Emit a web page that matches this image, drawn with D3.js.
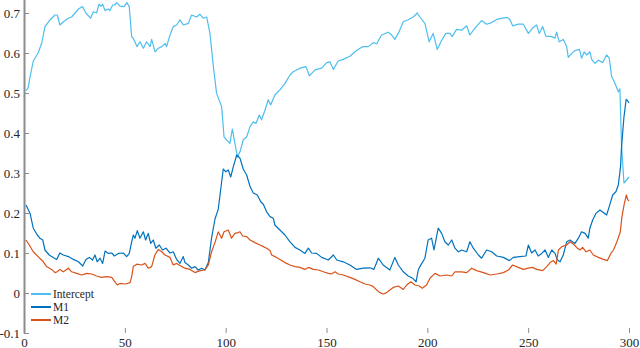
<!DOCTYPE html>
<html>
<head>
<meta charset="utf-8">
<script src="https://cdn.jsdelivr.net/npm/d3@7"></script>
<style>
  body { margin: 0; background: #fff; }
  svg { display: block; }
</style>
</head>
<body>
<svg id="chart" width="640" height="348"></svg>
<script>
// values, [x, y]
const intercept = [[1,0.506],[2,0.512],[3,0.54],[4.6,0.58],[7,0.60],[8.8,0.625],[10.4,0.666],[12.9,0.683],[15.4,0.695],[16.5,0.695],[17.8,0.67],[19.5,0.678],[22,0.687],[23.6,0.69],[27,0.71],[29,0.716],[30.7,0.70],[33,0.687],[34.4,0.703],[36,0.70],[37.2,0.722],[38.2,0.717],[39,0.722],[40.2,0.706],[41.8,0.71],[42.6,0.706],[44,0.72],[45,0.72],[46,0.726],[47.6,0.717],[49.6,0.716],[51,0.726],[52.2,0.716],[53.4,0.64],[54.2,0.637],[56,0.616],[57.5,0.628],[59.2,0.612],[60.8,0.628],[62.5,0.616],[63.3,0.634],[65,0.603],[66.6,0.612],[68.3,0.616],[70,0.624],[70.7,0.616],[72.4,0.645],[74,0.666],[75.7,0.67],[77.3,0.683],[79,0.67],[81.5,0.674],[83.1,0.695],[85.6,0.69],[87.2,0.697],[88.9,0.687],[90.6,0.69],[92.2,0.649],[93.9,0.566],[95.5,0.499],[98,0.466],[99.2,0.39],[100.5,0.383],[102.1,0.374],[103.3,0.41],[104.6,0.374],[105.8,0.34],[107.1,0.353],[108.7,0.383],[110.4,0.39],[112.1,0.416],[113.7,0.428],[115,0.424],[116.7,0.445],[117.8,0.433],[119.5,0.457],[121.1,0.483],[122.3,0.47],[124.4,0.495],[126.9,0.508],[129.4,0.524],[131.9,0.545],[133.5,0.553],[136.8,0.562],[139.8,0.566],[141.5,0.543],[144.3,0.558],[147.6,0.562],[150.1,0.576],[151.7,0.578],[153.4,0.559],[155.8,0.58],[158.3,0.584],[161.6,0.592],[164.1,0.603],[166.6,0.612],[168.2,0.616],[170.7,0.616],[173.2,0.626],[174.9,0.623],[177.3,0.645],[180.6,0.652],[182.3,0.645],[183.9,0.634],[185.6,0.649],[188.1,0.678],[190.5,0.683],[193,0.69],[195,0.70],[196.3,0.69],[198.8,0.674],[200.9,0.628],[202.9,0.649],[204.9,0.609],[207.1,0.632],[209.2,0.649],[211.2,0.649],[212.3,0.641],[214.5,0.659],[217,0.657],[219.5,0.668],[221.1,0.645],[223.6,0.662],[226.9,0.681],[229.4,0.672],[231.9,0.676],[234.4,0.684],[237.3,0.687],[239.6,0.689],[241,0.683],[242.3,0.668],[245.1,0.672],[247.6,0.672],[250.1,0.649],[252.5,0.664],[254.2,0.67],[255.5,0.649],[257.2,0.666],[258.8,0.642],[261.7,0.641],[263.3,0.637],[264.1,0.652],[265.4,0.628],[267.4,0.634],[269.1,0.616],[269.9,0.589],[271.6,0.599],[273.2,0.606],[275.4,0.609],[276.5,0.587],[277.8,0.603],[279,0.595],[280.6,0.603],[281.5,0.584],[283.1,0.574],[284.8,0.582],[287,0.576],[288.9,0.595],[290.2,0.587],[291.4,0.541],[292.7,0.528],[294.7,0.503],[295.5,0.51],[296.3,0.37],[297.5,0.275],[298.4,0.28],[300,0.29]];

const m1 = [[1,0.22],[3,0.199],[4.6,0.162],[6.6,0.145],[7.9,0.137],[9.3,0.1325],[10.4,0.1075],[12.5,0.095],[14.5,0.089],[16.2,0.084],[17.8,0.10],[19.5,0.095],[22,0.091],[24.5,0.084],[27,0.078],[29.1,0.0675],[30.7,0.084],[32.4,0.089],[34,0.0825],[35.2,0.095],[36.3,0.078],[37.7,0.087],[39,0.074],[40.2,0.105],[41.8,0.099],[43.5,0.10],[44.8,0.0925],[46.8,0.099],[49.2,0.10],[50.9,0.091],[52.2,0.099],[53.4,0.128],[54.2,0.145],[55,0.137],[56.2,0.156],[57.5,0.137],[59.2,0.153],[60.3,0.1325],[61.6,0.149],[62.8,0.124],[64.1,0.1325],[65.4,0.112],[67.1,0.12],[68.7,0.1075],[70.4,0.112],[72.4,0.10],[74,0.103],[75.7,0.084],[77.3,0.074],[79,0.091],[79.8,0.076],[81.5,0.07],[83.1,0.062],[84.8,0.066],[86.4,0.0575],[88.1,0.062],[89.7,0.0575],[91.4,0.076],[93,0.137],[94.7,0.185],[96.3,0.209],[97.5,0.2575],[98.8,0.31],[100.1,0.303],[101.3,0.3075],[102.5,0.29],[103.8,0.316],[105.5,0.345],[107.1,0.337],[108.7,0.31],[110.4,0.295],[112.1,0.266],[113.7,0.25],[115.7,0.245],[117.4,0.228],[118.7,0.222],[120.3,0.203],[122,0.191],[123.6,0.187],[124.4,0.17],[126.9,0.1575],[129.4,0.145],[131.9,0.128],[134.4,0.114],[136.8,0.1075],[139.3,0.099],[141,0.112],[142.6,0.10],[145.1,0.099],[147.6,0.089],[150.9,0.0825],[153.4,0.095],[155.1,0.0825],[158.3,0.078],[161.6,0.07],[164.9,0.059],[168.2,0.062],[171.5,0.063],[173.5,0.059],[175.7,0.087],[178.1,0.07],[181.4,0.0575],[183.9,0.089],[185.6,0.07],[188.1,0.053],[190.5,0.0425],[192.7,0.037],[194.4,0.028],[195.5,0.0575],[196.3,0.066],[198.8,0.087],[200.4,0.1325],[202.1,0.137],[203.3,0.1075],[205.4,0.162],[207.1,0.149],[208.7,0.128],[210.4,0.12],[212.1,0.1325],[213.7,0.112],[215.4,0.103],[217,0.1075],[219.5,0.103],[221.1,0.128],[222.8,0.112],[225.3,0.095],[226.9,0.087],[229.4,0.1075],[231.9,0.103],[234.4,0.0925],[237.7,0.089],[240.7,0.081],[242.6,0.089],[245.9,0.091],[248.9,0.0925],[250.1,0.12],[251.7,0.10],[253.4,0.1075],[255,0.0925],[256.7,0.099],[258.4,0.1075],[260,0.089],[261.7,0.1075],[263.3,0.099],[264.5,0.0825],[265.8,0.078],[267.4,0.095],[269.1,0.128],[270.7,0.1325],[273.2,0.124],[274.9,0.137],[276.5,0.153],[278.2,0.149],[279.8,0.137],[280.6,0.162],[282,0.1825],[283.6,0.199],[285.6,0.2075],[287.6,0.20],[288.9,0.195],[290.2,0.216],[291.9,0.245],[293.5,0.253],[294.7,0.27],[295.8,0.316],[296.3,0.366],[297.5,0.44],[298.6,0.484],[299.4,0.48],[300,0.475]];

const m2 = [[1,0.1325],[2.6,0.12],[4.6,0.103],[7,0.091],[9.6,0.078],[11.2,0.066],[13.7,0.059],[15.4,0.051],[16.5,0.053],[17.8,0.059],[19.5,0.053],[22,0.062],[23.6,0.053],[26.1,0.049],[28.6,0.045],[31.1,0.049],[33.6,0.0475],[36,0.0425],[38.5,0.039],[41,0.041],[43.5,0.039],[45.1,0.028],[46.3,0.02],[47.6,0.024],[50.1,0.0225],[52.6,0.026],[53.4,0.041],[54.2,0.066],[55.9,0.072],[58.4,0.07],[60,0.074],[61.6,0.062],[63.3,0.066],[64.9,0.095],[66.6,0.109],[68.3,0.103],[69.9,0.095],[72.4,0.089],[74,0.07],[75.7,0.074],[78.2,0.066],[79.8,0.062],[82.3,0.059],[84.8,0.051],[87.3,0.056],[89.7,0.0575],[91.4,0.07],[93,0.103],[94.7,0.126],[96.3,0.153],[98,0.137],[99.2,0.153],[101.3,0.1575],[102.9,0.137],[104.6,0.149],[106.2,0.151],[107.1,0.153],[108.4,0.1425],[110.4,0.141],[112.1,0.1325],[114.5,0.126],[117,0.12],[118.7,0.116],[120.3,0.112],[122,0.106],[122.8,0.095],[124.4,0.091],[126.9,0.084],[129.4,0.076],[131.9,0.07],[134.4,0.066],[136.8,0.064],[139.3,0.059],[141,0.064],[143.5,0.059],[146,0.0575],[148.4,0.053],[150.9,0.049],[152.5,0.0475],[154.2,0.053],[155.8,0.0475],[158.3,0.045],[161.6,0.039],[164.1,0.034],[166.6,0.028],[169.1,0.0225],[171.5,0.02],[173.2,0.016],[174.9,0.0075],[176.5,0.001],[178.1,-0.0025],[179.8,0.001],[181.4,0.0075],[183.1,0.014],[185.6,0.0175],[188.1,0.009],[189.8,0.02],[191.8,0.028],[193.9,0.02],[196,0.0175],[197.5,0.012],[199.6,0.02],[201.3,0.037],[203.8,0.049],[206.3,0.0425],[209.6,0.045],[212.1,0.0425],[213.7,0.053],[217,0.053],[219.5,0.051],[222,0.062],[224.5,0.056],[227.8,0.051],[231.1,0.045],[234.4,0.0475],[237.7,0.051],[240.2,0.0575],[242.3,0.07],[245.1,0.064],[247.6,0.059],[250.1,0.062],[252.2,0.064],[254.2,0.059],[257.2,0.056],[259.2,0.066],[260.9,0.076],[262.5,0.081],[263.9,0.0725],[265,0.1075],[266.7,0.116],[269.1,0.12],[270.7,0.128],[272.4,0.1225],[274,0.114],[275.7,0.1075],[277,0.114],[278.7,0.103],[280.6,0.1075],[282.3,0.095],[284.8,0.089],[287.3,0.084],[289.3,0.081],[291,0.099],[292.3,0.1075],[294,0.128],[295.7,0.153],[296.5,0.191],[297.7,0.224],[298.7,0.245],[299.3,0.234],[300,0.23]];

const seriesNames = ["Intercept", "M1", "M2"];
const seriesColors = ["#4DBEEE", "#0072BD", "#D95319"];
const xTicks = [0, 50, 100, 150, 200, 250, 300];
const yTicks = [-0.1, 0, 0.1, 0.2, 0.3, 0.4, 0.5, 0.6, 0.7];

let svg = d3.select("#chart");
let fontFamily = "'Liberation Serif', serif";

let x = d3.scaleLinear().domain([0, 300]).range([24, 629]);
let y = d3.scaleLinear().domain([-0.1, 0.8]).range([333, -27]);

let axisColor = "#8c8c8c";
let textColor = "#262626";

// y axis, ticks pointing inward
let yAxis = svg.append("g")
  .attr("transform", "translate(" + x(0) + ",0)")
  .call(d3.axisLeft(y).tickValues(yTicks).tickSizeInner(-5).tickSizeOuter(0).tickPadding(4)
    .tickFormat(d => String(+d.toFixed(1))));
yAxis.attr("font-family", fontFamily).attr("font-size", 13);
yAxis.select(".domain").attr("stroke", axisColor).attr("stroke-width", 2);
yAxis.selectAll(".tick line").attr("stroke", axisColor);
yAxis.selectAll("text").attr("fill", textColor);

// x axis: no baseline, short inward ticks
let xAxis = svg.append("g")
  .attr("transform", "translate(0," + y(-0.1) + ")")
  .call(d3.axisBottom(x).tickValues(xTicks).tickSizeInner(-5).tickSizeOuter(0).tickPadding(5));
xAxis.attr("font-family", fontFamily).attr("font-size", 13);
xAxis.select(".domain").remove();
xAxis.selectAll(".tick line").attr("stroke", axisColor);
xAxis.selectAll("text").attr("fill", textColor);

let line = d3.line().x(d => x(d[0])).y(d => y(d[1]));

[intercept, m1, m2].forEach((data, i) => {
  svg.append("path")
    .datum(data)
    .attr("fill", "none")
    .attr("stroke", seriesColors[i])
    .attr("stroke-width", 1.2)
    .attr("stroke-linejoin", "round")
    .attr("d", line);
});

// legend, bottom left (a bit smaller than tick labels)
let legend = svg.append("g").attr("transform", "translate(31,294)")
  .attr("font-family", fontFamily).attr("font-size", 11.5);
seriesNames.forEach((name, i) => {
  let row = legend.append("g").attr("transform", "translate(0," + (i * 13) + ")");
  row.append("line")
    .attr("x1", 0).attr("x2", 20).attr("y1", 0).attr("y2", 0)
    .attr("stroke", seriesColors[i]).attr("stroke-width", 2);
  row.append("text")
    .attr("x", 22).attr("y", 4)
    .attr("fill", textColor)
    .text(name);
});
</script>
</body>
</html>
